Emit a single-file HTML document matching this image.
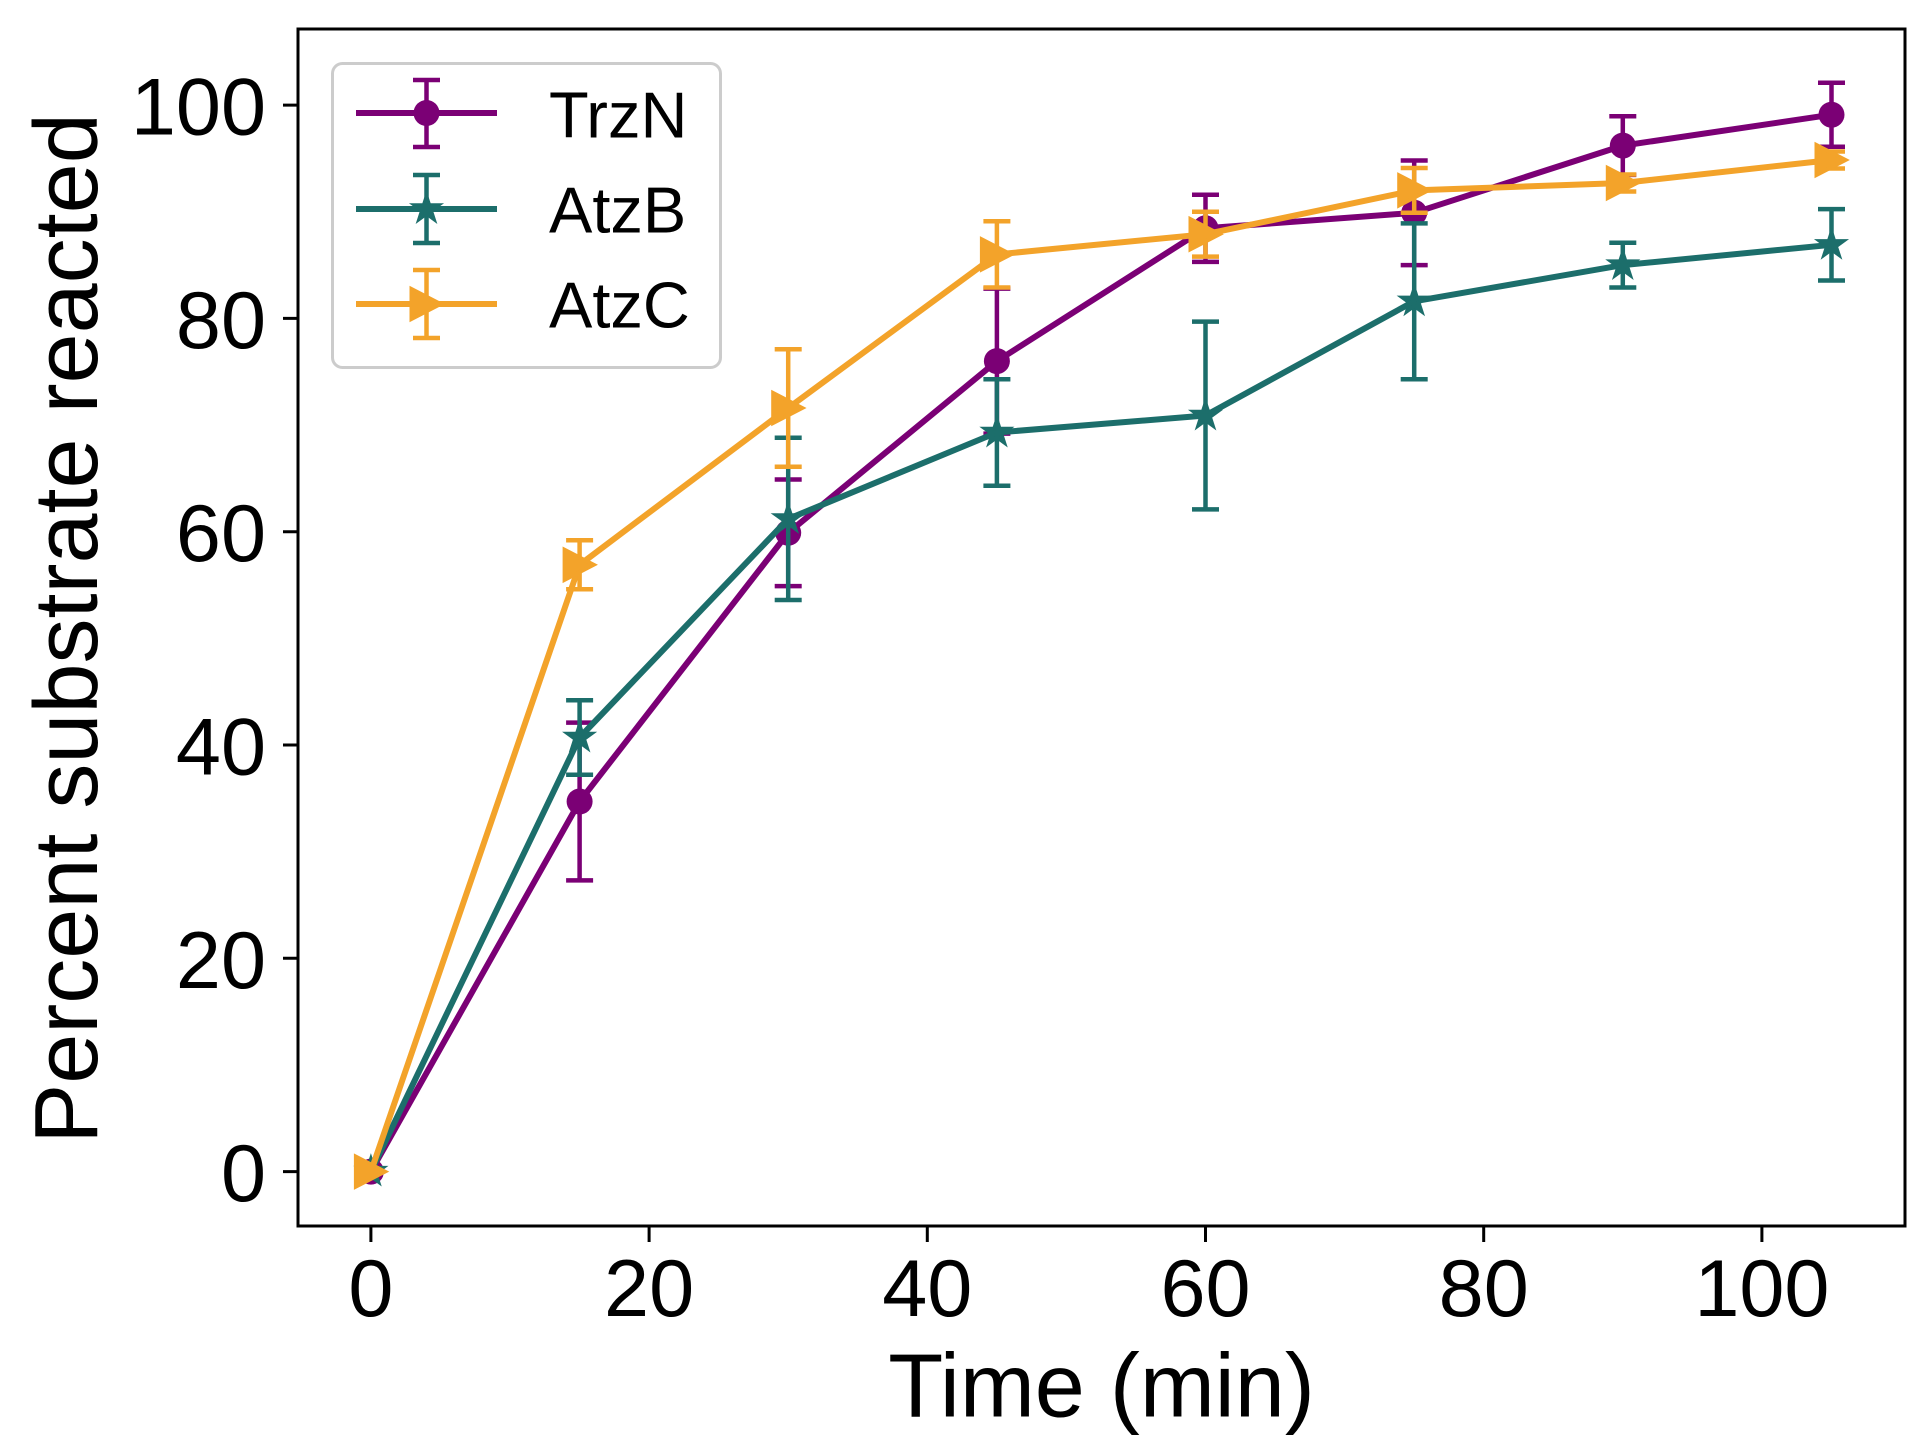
<!DOCTYPE html>
<html>
<head>
<meta charset="utf-8">
<style>
html,body{margin:0;padding:0;background:#fff;}
svg{display:block;}
</style>
</head>
<body>
<svg width="1923" height="1445" viewBox="0 0 1923 1445" xmlns="http://www.w3.org/2000/svg" font-family="'Liberation Sans', Arial, sans-serif">
<defs>
  <path id="star" d="M0,-12 L2.69,-3.71 L11.41,-3.71 L4.36,1.42 L7.05,9.71 L0,4.58 L-7.05,9.71 L-4.36,1.42 L-11.41,-3.71 L-2.69,-3.71 Z"/>
  <path id="tri" d="M-15,-15 L14,0 L-15,15 Z"/>
</defs>
<rect x="0" y="0" width="1923" height="1445" fill="#ffffff"/>

<!-- TrzN (purple) -->
<g stroke="#7b0075" fill="none">
  <polyline stroke-width="6" stroke-linejoin="round" points="370.9,1171.6 579.6,801.5 788.2,532.8 996.9,361.1 1205.5,228.3 1414.2,212.8 1622.8,145.6 1831.5,114.7"/>
  <path stroke-width="4.5" d="M579.6,722.6V880.4 M788.2,479.5V586.1 M996.9,288.6V433.6 M1205.5,194.7V261.9 M1414.2,160.5V265.1 M1622.8,116.3V174.9 M1831.5,82.7V146.7"/>
  <path stroke-width="4.5" d="M566.1,722.6h27 M566.1,880.4h27 M774.7,479.5h27 M774.7,586.1h27 M983.4,288.6h27 M983.4,433.6h27 M1192,194.7h27 M1192,261.9h27 M1400.7,160.5h27 M1400.7,265.1h27 M1609.3,116.3h27 M1609.3,174.9h27 M1818,82.7h27 M1818,146.7h27"/>
</g>
<g fill="#7b0075">
  <circle cx="370.9" cy="1171.6" r="13"/>
  <circle cx="579.6" cy="801.5" r="13"/>
  <circle cx="788.2" cy="532.8" r="13"/>
  <circle cx="996.9" cy="361.1" r="13"/>
  <circle cx="1205.5" cy="228.3" r="13"/>
  <circle cx="1414.2" cy="212.8" r="13"/>
  <circle cx="1622.8" cy="145.6" r="13"/>
  <circle cx="1831.5" cy="114.7" r="13"/>
</g>

<!-- AtzB (teal) -->
<g stroke="#1c6e6b" fill="none">
  <polyline stroke-width="6" stroke-linejoin="round" points="370.9,1171.6 579.6,737.5 788.2,518.9 996.9,432.5 1205.5,415.5 1414.2,301.3 1622.8,265.1 1831.5,244.8"/>
  <path stroke-width="4.5" d="M579.6,700.2V774.8 M788.2,437.8V600 M996.9,379.2V485.8 M1205.5,321.6V509.4 M1414.2,223.4V379.2 M1622.8,242.7V287.5 M1831.5,209.1V280.5"/>
  <path stroke-width="4.5" d="M566.1,700.2h27 M566.1,774.8h27 M774.7,437.8h27 M774.7,600h27 M983.4,379.2h27 M983.4,485.8h27 M1192,321.6h27 M1192,509.4h27 M1400.7,223.4h27 M1400.7,379.2h27 M1609.3,242.7h27 M1609.3,287.5h27 M1818,209.1h27 M1818,280.5h27"/>
</g>
<g fill="#1c6e6b" stroke="#1c6e6b" stroke-width="4" stroke-linejoin="miter">
  <use href="#star" x="370.9" y="1171.6"/>
  <use href="#star" x="579.6" y="737.5"/>
  <use href="#star" x="788.2" y="518.9"/>
  <use href="#star" x="996.9" y="432.5"/>
  <use href="#star" x="1205.5" y="415.5"/>
  <use href="#star" x="1414.2" y="301.3"/>
  <use href="#star" x="1622.8" y="265.1"/>
  <use href="#star" x="1831.5" y="244.8"/>
</g>

<!-- AtzC (orange) -->
<g stroke="#f3a32a" fill="none">
  <polyline stroke-width="6" stroke-linejoin="round" points="370.9,1171.6 579.6,564.8 788.2,408 996.9,254.4 1205.5,234.2 1414.2,190.4 1622.8,183 1831.5,160"/>
  <path stroke-width="4.5" d="M579.6,540.3V589.3 M788.2,349.3V466.7 M996.9,221.3V287.5 M1205.5,211.8V256.6 M1414.2,168V212.8 M1622.8,174.5V191.5 M1831.5,151.5V168.5"/>
  <path stroke-width="4.5" d="M566.1,540.3h27 M566.1,589.3h27 M774.7,349.3h27 M774.7,466.7h27 M983.4,221.3h27 M983.4,287.5h27 M1192,211.8h27 M1192,256.6h27 M1400.7,168h27 M1400.7,212.8h27 M1609.3,174.5h27 M1609.3,191.5h27 M1818,151.5h27 M1818,168.5h27"/>
</g>
<g fill="#f3a32a" stroke="#f3a32a" stroke-width="4" stroke-linejoin="miter">
  <use href="#tri" x="370.9" y="1171.6"/>
  <use href="#tri" x="579.6" y="564.8"/>
  <use href="#tri" x="788.2" y="408"/>
  <use href="#tri" x="996.9" y="254.4"/>
  <use href="#tri" x="1205.5" y="234.2"/>
  <use href="#tri" x="1414.2" y="190.4"/>
  <use href="#tri" x="1622.8" y="183"/>
  <use href="#tri" x="1831.5" y="160"/>
</g>

<!-- Axes frame -->
<rect x="298" y="29" width="1607" height="1197" fill="none" stroke="#000" stroke-width="3"/>

<!-- Y ticks -->
<path stroke="#000" stroke-width="3" d="M283,1171.6H298 M283,958.3H298 M283,745H298 M283,531.7H298 M283,318.4H298 M283,105.1H298"/>
<g font-size="81" text-anchor="end" fill="#000">
  <text x="266" y="1201.1">0</text>
  <text x="266" y="987.8">20</text>
  <text x="266" y="774.5">40</text>
  <text x="266" y="561.2">60</text>
  <text x="266" y="347.9">80</text>
  <text x="266" y="134.6">100</text>
</g>

<!-- X ticks -->
<path stroke="#000" stroke-width="3" d="M370.9,1226V1242 M649.1,1226V1242 M927.3,1226V1242 M1205.5,1226V1242 M1483.7,1226V1242 M1761.9,1226V1242"/>
<g font-size="81" text-anchor="middle" fill="#000">
  <text x="370.9" y="1316">0</text>
  <text x="649.1" y="1316">20</text>
  <text x="927.3" y="1316">40</text>
  <text x="1205.5" y="1316">60</text>
  <text x="1483.7" y="1316">80</text>
  <text x="1761.9" y="1316">100</text>
</g>

<!-- Axis labels -->
<text x="1101.5" y="1416.7" font-size="90" text-anchor="middle" fill="#000">Time (min)</text>
<text transform="translate(97,628.5) rotate(-90)" font-size="90" text-anchor="middle" fill="#000">Percent substrate reacted</text>

<!-- Legend -->
<rect x="332.5" y="63.5" width="388" height="304" rx="10" ry="10" fill="#ffffff" fill-opacity="0.8" stroke="#cccccc" stroke-width="3"/>
<!-- TrzN entry -->
<g stroke="#7b0075" fill="none">
  <path stroke-width="6" d="M356,113H497"/>
  <path stroke-width="4.5" d="M426.5,80V147 M413,80h27 M413,147h27"/>
</g>
<circle cx="426.5" cy="113" r="13" fill="#7b0075"/>
<!-- AtzB entry -->
<g stroke="#1c6e6b" fill="none">
  <path stroke-width="6" d="M356,209H497"/>
  <path stroke-width="4.5" d="M426.5,175V243 M413,175h27 M413,243h27"/>
</g>
<use href="#star" x="426.5" y="209" fill="#1c6e6b" stroke="#1c6e6b" stroke-width="4"/>
<!-- AtzC entry -->
<g stroke="#f3a32a" fill="none">
  <path stroke-width="6" d="M356,304H497"/>
  <path stroke-width="4.5" d="M426.5,270V338 M413,270h27 M413,338h27"/>
</g>
<use href="#tri" x="426.5" y="304" fill="#f3a32a" stroke="#f3a32a" stroke-width="4"/>
<g font-size="65" fill="#000">
  <text x="549" y="137.5">TrzN</text>
  <text x="549" y="232.5">AtzB</text>
  <text x="549" y="327.5">AtzC</text>
</g>
</svg>
</body>
</html>
